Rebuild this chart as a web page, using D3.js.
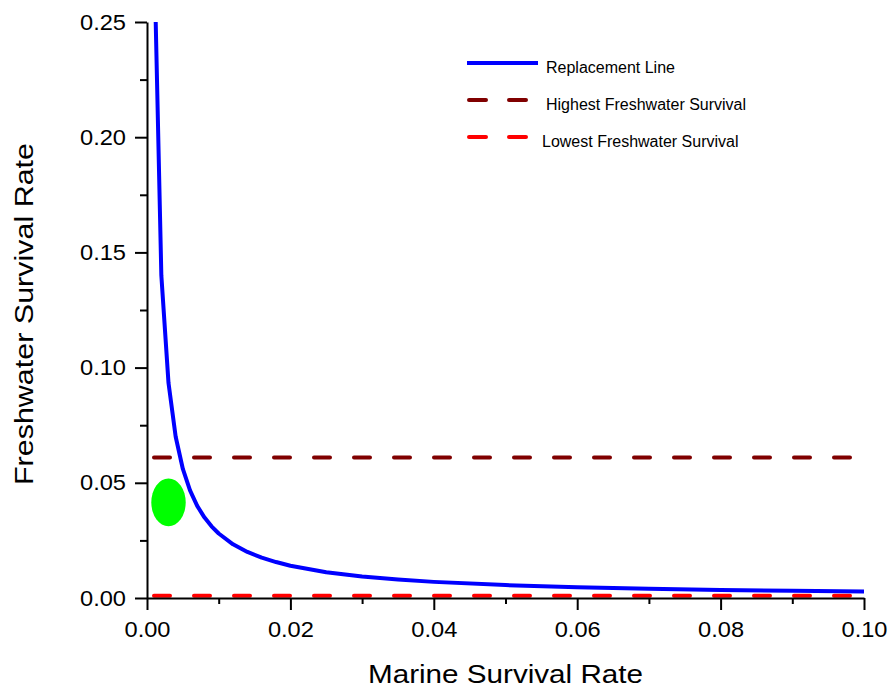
<!DOCTYPE html>
<html>
<head>
<meta charset="utf-8">
<script src="https://cdn.jsdelivr.net/npm/d3@7"></script>
<style>
  body { margin: 0; background: #fff; }
  svg { display: block; font-family: "Liberation Sans", Arial, sans-serif; }
</style>
</head>
<body>
<div id="graph"></div>
<script>
// marine survival (x) and freshwater survival on the replacement line (y)
var marineX = [0.001, 0.002, 0.003, 0.004, 0.005, 0.006, 0.007, 0.008, 0.009, 0.010,
               0.012, 0.014, 0.016, 0.018, 0.020, 0.025, 0.030, 0.035, 0.040, 0.050,
               0.060, 0.070, 0.080, 0.090, 0.100];
var replacementY = [0.28, 0.14, 0.0933, 0.07, 0.056, 0.0467, 0.04, 0.035, 0.0311, 0.028,
                    0.0233, 0.02, 0.0175, 0.0156, 0.014, 0.0112, 0.0093, 0.008, 0.007, 0.0056,
                    0.0047, 0.004, 0.0035, 0.0031, 0.0028];

var highestFW = 0.061;
var lowestFW = 0.001;
var refLineX = [0, 0.1];

var optimumCenter = [0.003, 0.0415];
var optimumRadius = [0.0024, 0.0104];

var xTicks = [0, 0.02, 0.04, 0.06, 0.08, 0.10];
var xMinorTicks = [0.01, 0.03, 0.05, 0.07, 0.09];
var yTicks = [0, 0.05, 0.10, 0.15, 0.20, 0.25];
var yMinorTicks = [0.025, 0.075, 0.125, 0.175, 0.225];

var legendItems = ["Replacement Line", "Highest Freshwater Survival", "Lowest Freshwater Survival"];

var width = 890, height = 689;
var margin = {top: 22, right: 26, bottom: 91, left: 147};

var svg = d3.select("#graph")
    .append("svg")
    .attr("width", width)
    .attr("height", height);

var x = d3.scaleLinear()
    .domain([0, 0.1])
    .range([margin.left, width - margin.right]);

var y = d3.scaleLinear()
    .domain([0, 0.25])
    .range([height - margin.bottom, margin.top]);

svg.append("clipPath")
    .attr("id", "plot-clip")
    .append("rect")
    .attr("x", margin.left)
    .attr("y", margin.top)
    .attr("width", x(0.1) - margin.left)
    .attr("height", y(0) - margin.top);

var plot = svg.append("g").attr("clip-path", "url(#plot-clip)");

var line = d3.line()
    .x(function(d) { return x(d[0]); })
    .y(function(d) { return y(d[1]); });

// horizontal reference lines
function refLine(g, value, color) {
    g.append("path")
        .datum(refLineX.map(function(v) { return [v, value]; }))
        .attr("d", line)
        .attr("fill", "none")
        .attr("stroke", color)
        .attr("stroke-width", 4)
        .attr("stroke-linecap", "round")
        .attr("stroke-dasharray", "16,24")
        .attr("stroke-dashoffset", -7);
}
refLine(plot, highestFW, "#800000");
refLine(plot, lowestFW, "#ff0000");

plot.append("ellipse")
    .attr("cx", x(optimumCenter[0]))
    .attr("cy", y(optimumCenter[1]))
    .attr("rx", x(optimumRadius[0]) - x(0))
    .attr("ry", y(0) - y(optimumRadius[1]))
    .attr("fill", "#00ff00");

plot.append("path")
    .datum(marineX.map(function(v, i) { return [v, replacementY[i]]; }))
    .attr("d", line)
    .attr("fill", "none")
    .attr("stroke", "#0000ff")
    .attr("stroke-width", 4)
    .attr("stroke-linejoin", "round");

// axes
var fmt = d3.format(".2f");

svg.append("g")
    .attr("class", "x-axis")
    .attr("transform", "translate(0," + y(0) + ")")
    .call(d3.axisBottom(x).tickValues(xTicks).tickFormat(fmt).tickSize(12).tickSizeOuter(0).tickPadding(12));
svg.append("g")
    .attr("transform", "translate(0," + y(0) + ")")
    .call(d3.axisBottom(x).tickValues(xMinorTicks).tickFormat("").tickSize(6).tickSizeOuter(0))
    .call(function(g) { g.select(".domain").remove(); });

svg.append("g")
    .attr("class", "y-axis")
    .attr("transform", "translate(" + x(0) + ",0)")
    .call(d3.axisLeft(y).tickValues(yTicks).tickFormat(fmt).tickSize(12).tickSizeOuter(0).tickPadding(9));
svg.append("g")
    .attr("transform", "translate(" + x(0) + ",0)")
    .call(d3.axisLeft(y).tickValues(yMinorTicks).tickFormat("").tickSize(7).tickSizeOuter(0))
    .call(function(g) { g.select(".domain").remove(); });

svg.selectAll(".domain, .tick line")
    .attr("stroke", "#000")
    .attr("stroke-width", 2);
svg.selectAll(".tick text")
    .style("font-size", "22px")
    .style("font-family", "'Liberation Sans', Arial, sans-serif")
    .attr("textLength", 46)
    .attr("lengthAdjust", "spacingAndGlyphs")
    .attr("fill", "#000");
svg.selectAll(".x-axis .tick text").attr("dy", "0.68em");

// axis titles
svg.append("text")
    .attr("x", (x(0) + x(0.1)) / 2)
    .attr("y", 683)
    .attr("text-anchor", "middle")
    .style("font-size", "26px")
    .attr("textLength", 275)
    .attr("lengthAdjust", "spacingAndGlyphs")
    .text("Marine Survival Rate");

svg.append("text")
    .attr("transform", "translate(33,314) rotate(-90)")
    .attr("text-anchor", "middle")
    .style("font-size", "26px")
    .attr("textLength", 342)
    .attr("lengthAdjust", "spacingAndGlyphs")
    .text("Freshwater Survival Rate");

// legend
var legendColors = ["#0000ff", "#800000", "#ff0000"];
var legendRowY = [63, 100, 137];
var legendTextX = [546, 546, 542];
var legend = svg.append("g");
legendItems.forEach(function(name, i) {
    var sample = legend.append("line")
        .attr("x1", 467)
        .attr("x2", i === 0 ? 538 : 528)
        .attr("y1", legendRowY[i])
        .attr("y2", legendRowY[i])
        .attr("stroke", legendColors[i])
        .attr("stroke-width", 4);
    if (i > 0) {
        sample.attr("stroke-linecap", "round")
            .attr("stroke-dasharray", "17,23")
            .attr("x1", 469);
    }
    legend.append("text")
        .attr("x", legendTextX[i])
        .attr("y", legendRowY[i] + 10)
        .style("font-size", "16px")
        .text(name);
});
</script>
</body>
</html>
